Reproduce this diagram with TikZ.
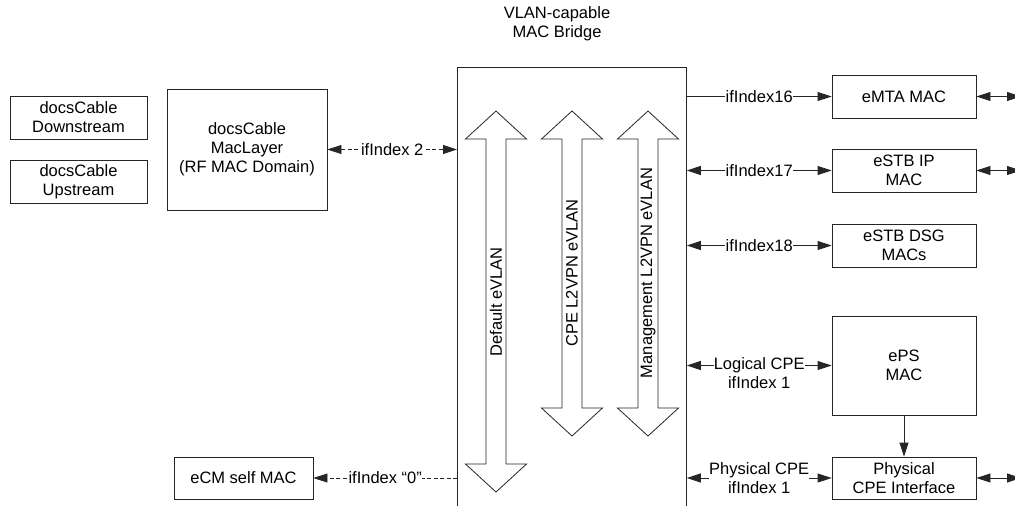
\documentclass[tikz,border=0pt]{standalone}
\usepackage{fontspec}
\setmainfont{Liberation Sans}
\usetikzlibrary{arrows.meta}

\begin{document}
\begin{tikzpicture}
		[x=1pt,y=-1pt,font=\fontsize{16.5}{19}\selectfont,
		line width=0.8pt,draw=black!85,
		box/.style={draw,inner sep=0pt,align=center,minimum width=144pt,minimum height=43pt},
		lbl/.style={fill=white,inner sep=0.3pt,align=center},
		tip/.style={-{Triangle[length=14pt,width=9pt]}},
		tips/.style={{Triangle[length=14pt,width=9pt]}-{Triangle[length=14pt,width=9pt]}},
		dsh/.style={dash pattern=on 4pt off 2.5pt}]
		
		\path[use as bounding box,clip] (0,0) rectangle (1015,506);
		
		% bridge
		\node[align=center] (title) at (557,24) {VLAN-capable\\MAC Bridge};
		\node[minimum width=229pt,minimum height=450pt,anchor=north west,inner sep=0pt] (bridge) at (457,67) {};
		\draw (bridge.south west) |- (bridge.north east) -- (bridge.south east);
		
		\draw (496,111) -- (526.5,139) -- (506,139) -- (506,464) -- (526.5,464) -- (496,492)
		-- (465.5,464) -- (486,464) -- (486,139) -- (465.5,139) -- cycle;
		\node[rotate=90] (dflt) at (496,302) {Default eVLAN};
		\draw (572,111) -- (602.5,139) -- (582,139) -- (582,408) -- (602.5,408) -- (572,436)
		-- (541.5,408) -- (562,408) -- (562,139) -- (541.5,139) -- cycle;
		\node[rotate=90] (cpevlan) at (572,273) {CPE L2VPN eVLAN};
		\draw (648,111) -- (678.5,139) -- (658,139) -- (658,408) -- (678.5,408) -- (648,436)
		-- (617.5,408) -- (638,408) -- (638,139) -- (617.5,139) -- cycle;
		\node[rotate=90] (mgmtvlan) at (648,273) {Management L2VPN eVLAN};
		
		% left side
		\node[box,minimum width=137pt] (down) at (78.5,117.5) {docsCable\\Downstream};
		\node[box,minimum width=137pt] (up) at (78.5,181.5) {docsCable\\Upstream};
		\node[box,minimum width=160pt,minimum height=121pt] (maclayer) at (247,149.5) {docsCable\\MacLayer\\(RF MAC Domain)};
		\node[box,minimum width=139pt,minimum height=42pt] (ecm) at (243.5,478) {eCM self MAC};
		
		\draw[tips,dsh] (maclayer.east) -- (bridge.west |- maclayer.east)
		node[midway,lbl]{ifIndex 2};
		\draw[tip,dsh] (bridge.west |- ecm.east) -- (ecm.east)
		node[midway,lbl]{ifIndex “0”};
		
		% right side
		\node[box] (emta) at (904,96.5) {eMTA MAC};
		\node[box] (estbip) at (904,170.5) {eSTB IP\\MAC};
		\node[box] (estbdsg) at (904,245.5) {eSTB DSG\\MACs};
		\node[box,minimum height=99pt] (eps) at (904,365.5) {ePS\\MAC};
		\node[box,minimum height=42pt] (phys) at (904,478) {Physical\\CPE Interface};
		
		\draw[tip] (bridge.east |- emta.west) -- (emta.west)
		node[midway,lbl]{ifIndex16};
		\draw[tips] (bridge.east |- estbip.west) -- (estbip.west)
		node[midway,lbl]{ifIndex17};
		\draw[tips] (bridge.east |- estbdsg.west) -- (estbdsg.west)
		node[midway,lbl]{ifIndex18};
		\draw[tips] (bridge.east |- eps.west) -- (eps.west)
		node[midway,lbl,yshift=-8pt]{Logical CPE\\ifIndex 1};
		\draw[tips] (bridge.east |- phys.west) -- (phys.west)
		node[midway,lbl]{Physical CPE\\ifIndex 1};
		\draw[tip] (eps.south) -- (phys.north);
		
		\coordinate (outa) at (1021,96.5);
		\coordinate (outb) at (1021,170.5);
		\coordinate (outc) at (1021,478);
		\draw[tips] (emta.east) -- (outa);
		\draw[tips] (estbip.east) -- (outb);
		\draw[tips] (phys.east) -- (outc);
	
	\end{tikzpicture}
\end{document}
